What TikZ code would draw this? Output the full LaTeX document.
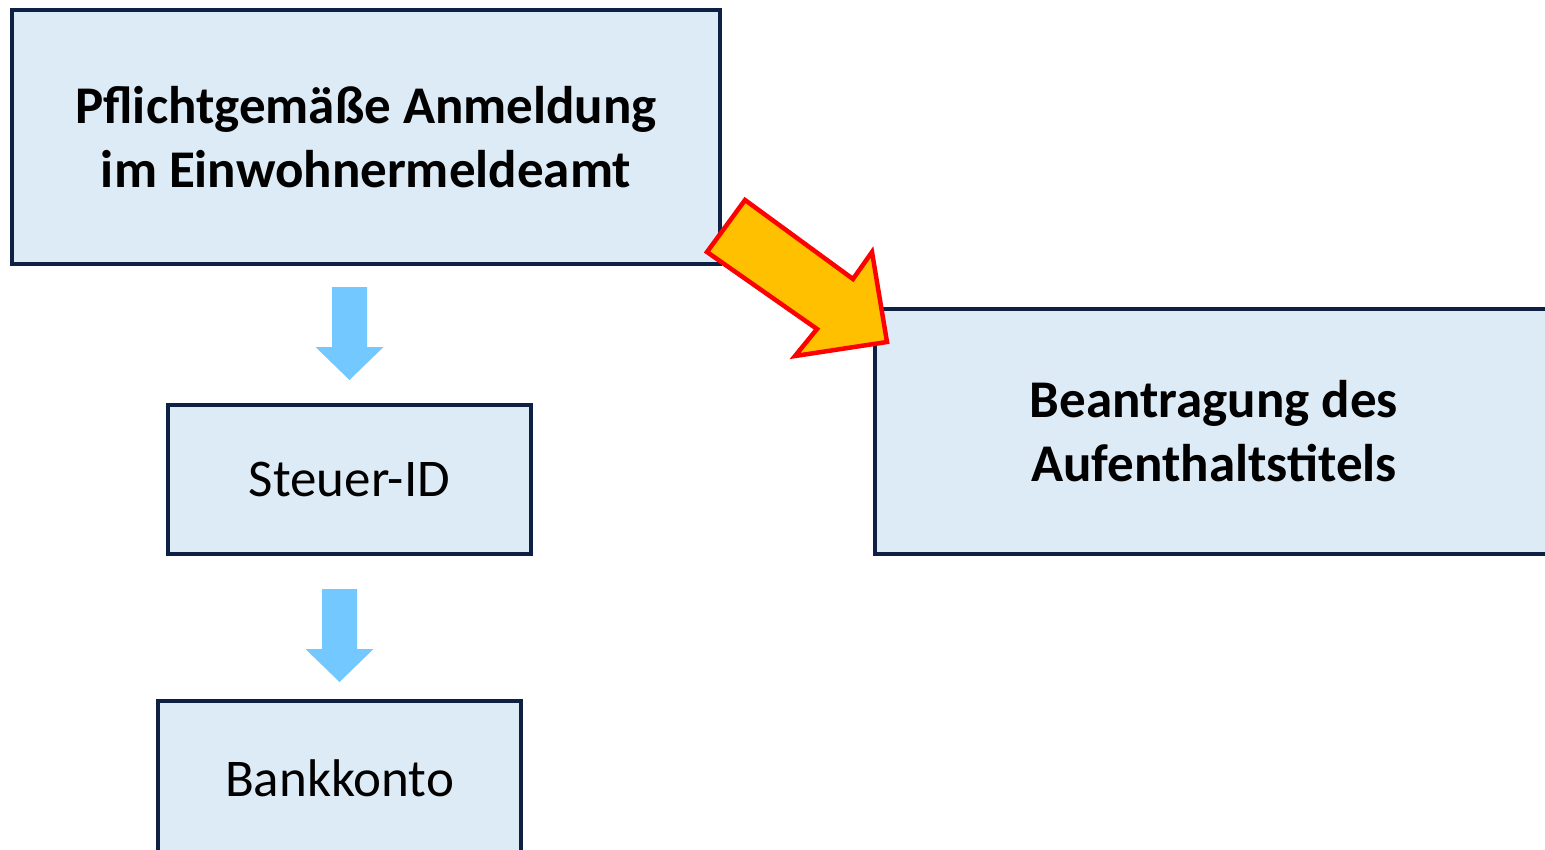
\documentclass[tikz,border=0pt]{standalone}
\usepackage{fontspec}
\setmainfont{Carlito}
\definecolor{boxfill}{HTML}{DDEBF6}
\definecolor{boxline}{HTML}{0E2044}
\definecolor{stepblue}{HTML}{73C8FF}
\definecolor{bigarrow}{HTML}{FFC000}
\begin{document}
\begin{tikzpicture}[x=1pt,y=-1pt,
  box/.style={draw=boxline,fill=boxfill,line width=4.5pt,inner sep=0pt,align=center,
    font=\fontsize{53}{64}\selectfont},
  blockarrow/.style={fill=stepblue}]
\useasboundingbox (0,0) rectangle (1545,849);
% Boxes
\node[box,minimum width=708pt,minimum height=254pt,font=\fontsize{53}{64}\selectfont\bfseries]
  (anmeldung) at (366,137) {Pflichtgemäße Anmeldung\\im Einwohnermeldeamt};
\node[box,minimum width=363pt,minimum height=149pt] (steuer) at (349.5,479.5) {Steuer-ID};
\node[box,minimum width=363pt,minimum height=154pt] (bank) at (339.5,778) {Bankkonto};
\node[box,minimum width=678pt,minimum height=245pt,font=\fontsize{53}{64}\selectfont\bfseries]
  (antrag) at (1214,431.5) {Beantragung des\\Aufenthaltstitels};
% Blue arrows
\coordinate (a1) at (steuer.north |- 0,287);
\fill[blockarrow] (a1) ++(-17.5,0) -- ++(0,60) -- ++(-16.5,0) -- ++(34,33)
  -- ++(34,-33) -- ++(-16.5,0) -- ++(0,-60) -- cycle;
\coordinate (a2) at (bank.north |- 0,589);
\fill[blockarrow] (a2) ++(-17.5,0) -- ++(0,60) -- ++(-16.5,0) -- ++(34,33)
  -- ++(34,-33) -- ++(-16.5,0) -- ++(0,-60) -- cycle;
% Orange arrow
\filldraw[fill=bigarrow,draw=red,line width=4.5pt,line join=miter]
  (745,200) -- (853,279) -- (872,252) -- (887,342) -- (795,356) -- (817,329)
  -- (707,252) -- cycle;
\end{tikzpicture}
\end{document}
